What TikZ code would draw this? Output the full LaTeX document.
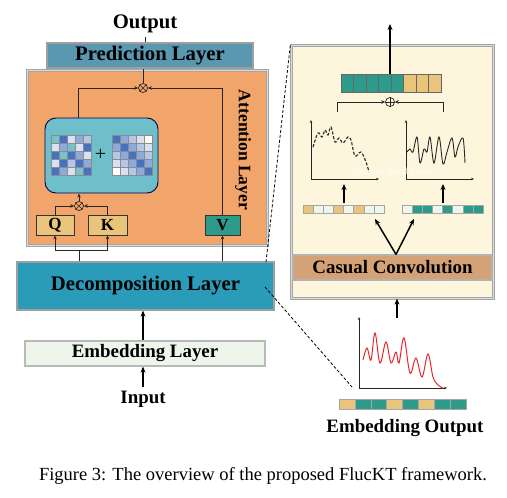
\documentclass[tikz,border=0pt]{standalone}
\usepackage{fontspec}
\setmainfont{Liberation Serif}
\usetikzlibrary{arrows.meta,calc}
\definecolor{predc}{HTML}{5A97B0}
\definecolor{attc}{HTML}{F2A56A}
\definecolor{decc}{HTML}{2A9BB9}
\definecolor{embc}{HTML}{EEF6EC}
\definecolor{panelc}{HTML}{FDF6DD}
\definecolor{convc}{HTML}{D4A276}
\definecolor{qkc}{HTML}{E9C47A}
\definecolor{vc}{HTML}{2E9A8A}
\definecolor{boxc}{HTML}{6FBFCB}
\definecolor{mA}{HTML}{4472C4}
\definecolor{mB}{HTML}{8EA9DB}
\definecolor{mC}{HTML}{B4C6E7}
\definecolor{mD}{HTML}{D9E1F2}
\definecolor{mW}{HTML}{FFFFFF}
\definecolor{mT}{HTML}{74C3CB}
\definecolor{redc}{HTML}{E8262A}
\definecolor{lc}{HTML}{EEF6EE}
\begin{document}
\begin{tikzpicture}[x=1pt,y=-1pt,
  lbl/.style={font=\fontsize{20.7}{24}\selectfont\bfseries},
  lblsm/.style={font=\fontsize{18.9}{22}\selectfont\bfseries},
  layerbox/.style={draw=gray!75, line width=1.2pt, inner sep=0pt},
  qkv/.style={draw=black!80, line width=0.8pt, inner sep=0pt, minimum height=20pt, font=\fontsize{17}{20}\selectfont\bfseries},
  thin/.style={draw=black!85, line width=0.8pt},
  thinarrow/.style={thin, -{Stealth[length=4pt,width=3.5pt]}},
  thickarrow/.style={draw=black, line width=1.5pt, -{Stealth[length=6pt,width=5pt]}},
  axis/.style={draw=black!85, line width=0.8pt, -{Stealth[length=3pt,width=2.5pt]}},
  opsym/.style={circle, draw=black!85, line width=0.7pt, minimum size=9pt, inner sep=0pt},
  cellA/.style={draw=black!60, line width=0.5pt},
  mcell/.style={draw=black!45, line width=0.45pt},
]
\useasboundingbox (0,0) rectangle (507,498);

% ---------- Left column ----------
\node[lbl] (out) at (145,24) {Output};
\node[layerbox, fill=predc, minimum width=206pt, minimum height=25pt, lbl] (pred) at (150,55.5) {Prediction Layer};
\node[layerbox, draw=gray!70, double=gray!30, double distance=0.6pt, fill=attc, minimum width=240pt, minimum height=175pt] (att) at (147,157.5) {};
\node[font=\fontsize{17.5}{20}\selectfont\bfseries, rotate=-90] (attlbl) at (243,150) {Attention Layer};

\node[draw=black!70!blue, line width=0.9pt, fill=boxc, rounded corners=11pt, minimum width=113pt, minimum height=75pt] (tbox) at (101.5,155.5) {};

% matrices
\foreach \row [count=\i] in {{mT,mA,mD,mB,mC},{mD,mB,mT,mD,mA},{mA,mT,mA,mB,mD},{mD,mA,mC,mA,mB},{mA,mB,mD,mT,mA}}{
  \foreach \c [count=\j] in \row {
    \filldraw[fill=\c, mcell] ({51+8*(\j-1)},{135+8*(\i-1)}) rectangle +(8,8);
  }
}
\foreach \row [count=\i] in {{mA,mB,mC,mD,mW},{mB,mA,mB,mC,mD},{mC,mB,mA,mB,mC},{mD,mC,mB,mA,mB},{mW,mD,mC,mB,mA}}{
  \foreach \c [count=\j] in \row {
    \filldraw[fill=\c, mcell] ({112+8*(\j-1)},{135+8*(\i-1)}) rectangle +(8,8);
  }
}
\node[font=\fontsize{20}{22}\selectfont] (plus) at (100.5,155) {+};

\node[opsym] (otop) at (143,88) {};
\draw[black!85, line width=0.6pt] (otop.north west) -- (otop.south east) (otop.north east) -- (otop.south west);
\node[opsym] (obot) at (79,206) {};
\draw[black!85, line width=0.6pt] (obot.north west) -- (obot.south east) (obot.north east) -- (obot.south west);

\node[qkv, fill=qkc, minimum width=38pt] (q) at (55,225) {Q};
\node[qkv, fill=qkc, minimum width=39pt] (k) at (107.5,225) {K};
\node[qkv, fill=vc, minimum width=35pt] (v) at (222.5,225) {V};

\node[layerbox, fill=decc, minimum width=257pt, minimum height=48pt, lbl] (dec) at (145.5,286) {Decomposition Layer};
\node[layerbox, draw=gray!55, fill=embc, minimum width=240pt, minimum height=25pt, lblsm] (emb) at (145,353.5) {Embedding Layer};
\node[lblsm] (inp) at (143,399) {Input};

% connectors left
\draw[thin] (pred.north -| out) -- (out.south);
\draw[thin] (otop.north) -- (otop.north |- pred.south);
\draw[thinarrow] (tbox.north -| 78,0) |- (otop.west);
\draw[thinarrow] (v.north) |- (otop.east);
\draw[thinarrow] (obot.north) -- (obot.north |- tbox.south);
\draw[thinarrow] (q.north) |- (obot.west);
\draw[thinarrow] (k.north) |- (obot.east);
\coordinate (qkj) at (79,250);
\draw[thin] (dec.north -| qkj) -- (qkj);
\draw[thin] (q.south |- qkj) -- (k.south |- qkj);
\draw[thinarrow] (q.south |- qkj) -- (q.south);
\draw[thinarrow] (k.south |- qkj) -- (k.south);
\draw[thinarrow] (dec.north -| v) -- (v.south);
\draw[thickarrow] (emb.north -| 143,0) -- (dec.south -| 143,0);
\draw[thickarrow] (inp.north) -- (emb.south -| inp);

% ---------- Right panel ----------
\node[layerbox, draw=gray!70, double=gray!30, double distance=0.6pt, fill=panelc, minimum width=202pt, minimum height=253pt] (panel) at (392,171.5) {};
\node[layerbox, draw=gray!60, fill=convc, minimum width=199pt, minimum height=25pt, lblsm] (conv) at (392.5,267.5) {Casual Convolution};

% top vector
\foreach \c [count=\j] in {vc,vc,vc,vc,vc,qkc,qkc,qkc}{
  \filldraw[fill=\c, cellA] ({341+12.5*(\j-1)},74) rectangle +(12.5,18);
}
\coordinate (topvec) at (390,74);
\coordinate (topend) at (390,24);
\draw[thickarrow] (topvec) -- (topend);

\node[circle, draw=black!85, line width=0.7pt, minimum size=9pt, inner sep=0pt] (oplus) at (390,102) {};
\draw[black!85, line width=0.6pt] (oplus.north) -- (oplus.south) (oplus.west) -- (oplus.east);
\coordinate (brl) at (337,112);
\coordinate (brr) at (443,112);
\draw[thinarrow] (brl) |- (oplus.west);
\draw[thinarrow] (brr) |- (oplus.east);

% left plot
\coordinate (lpo) at (311,179);
\draw[axis] (lpo) -- (311,120);
\draw[axis] (lpo) -- (379,179);
\draw[black!85, line width=1.1pt, dash pattern=on 3pt off 1.8pt] plot[smooth, tension=0.55] coordinates {(313,147) (318,133) (322,137) (325,130) (328,135) (331,127) (335,142) (339,138) (343,143) (348,137) (351,140) (355,156) (361,152) (366,162) (369,172)};
% right plot
\coordinate (rpo) at (406,179);
\draw[axis] (rpo) -- (406,120);
\draw[axis] (rpo) -- (474,179);
\draw[black!85, line width=0.9pt] plot[smooth, tension=0.55] coordinates {(407,152) (410,149) (413,152) (417,137) (420,163) (424,149) (427,152) (430,137) (434,163) (439,137) (443,164) (447,152) (452,138) (455,157) (458,147) (463,138) (465,163)};
\node[text=white, opacity=0.8, font=\fontsize{9}{10}\selectfont] (ctf) at (393,172) {Cognitive Trend Feature};

% small vectors
\foreach \c [count=\j] in {qkc,lc,lc,qkc,lc,qkc,lc,lc}{
  \filldraw[fill=\c, draw=gray!70, line width=0.5pt] ({303+10.125*(\j-1)},205) rectangle +(10.125,8.5);
}
\foreach \c [count=\j] in {lc,vc,vc,lc,vc,lc,vc,vc}{
  \filldraw[fill=\c, draw=gray!70, line width=0.5pt] ({402+10.125*(\j-1)},205) rectangle +(10.125,8.5);
}
\coordinate (lvec) at (344,203);
\coordinate (rvec) at (443,203);
\draw[thickarrow] (lvec) -- (344,184);
\draw[thickarrow] (rvec) -- (443,184);
\coordinate (lvb) at (375,219);
\coordinate (rvb) at (414,219);
\draw[thickarrow] (conv.north -| 396,0) -- (lvb);
\draw[thickarrow] (conv.north -| 396,0) -- (rvb);

% embedding output
\coordinate (eo) at (359,388);
\draw[axis] (eo) -- (359,317);
\draw[axis] (eo) -- (447,388);
\draw[redc, line width=1pt] plot[smooth, tension=0.6] coordinates {(363,360) (367,348) (371,360) (375,333) (380,363) (386,342) (391,363) (396,352) (399,363) (404,338) (410,373) (416,358) (422,377) (428,354) (433,377) (438,385) (443,388)};
\coordinate (eotop) at (397,318);
\draw[thickarrow] (eotop) -- (panel.south -| eotop);
\foreach \c [count=\j] in {qkc,vc,vc,qkc,vc,qkc,vc,vc}{
  \filldraw[fill=\c, draw=gray!70, line width=0.5pt] ({339+15.875*(\j-1)},399) rectangle +(15.875,10);
}
\node[lblsm] (eolbl) at (405,428) {Embedding Output};

% dashed zoom lines
\draw[black, line width=0.8pt, dash pattern=on 3pt off 2pt] (266,262) -- (panel.north west);
\draw[black, line width=0.8pt, dash pattern=on 3pt off 2pt] (265,287) -- (352,387);

% caption
\node[font=\fontsize{18.5}{22}\selectfont] (cap) at (263,476) {Figure 3: The overview of the proposed FlucKT framework.};
\end{tikzpicture}
\end{document}
